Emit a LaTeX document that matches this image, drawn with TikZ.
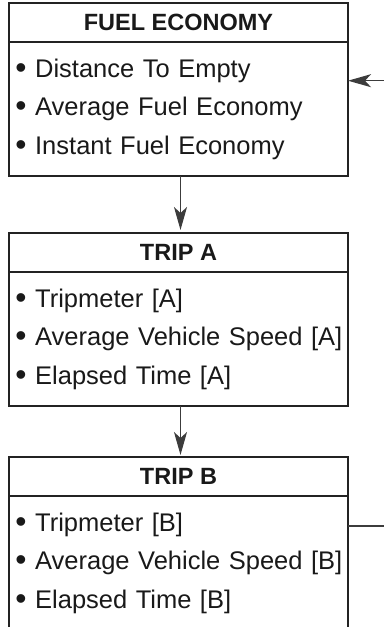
\documentclass[tikz,border=0pt]{standalone}
\usepackage{fontspec}
\setmainfont{Liberation Sans}
\usepackage{tikz}
\usetikzlibrary{positioning, calc, arrows.meta}
\usepackage{xcolor}
\definecolor{boxline}{RGB}{35, 35, 35}
\definecolor{linkline}{RGB}{60, 60, 60}
\definecolor{ink}{RGB}{25, 25, 25}
\newcommand{\itm}{\hspace*{1.5pt}\raisebox{-0.1ex}{\scalebox{1.25}{\textbullet}}\ }

\begin{document}
\begin{tikzpicture}[
        head/.style={draw=boxline, line width=0.8pt, outer sep=0pt, inner sep=0pt, minimum width=169.5pt, minimum height=19.5pt, text=ink, font=\fontsize{11.75pt}{14pt}\selectfont\bfseries},
        list/.style={draw=boxline, line width=0.8pt, outer sep=0pt, inner xsep=1.75pt, inner ysep=0pt, minimum width=169.5pt, minimum height=67pt, text width=166pt, align=left, text=ink, font=\fontsize{12.75pt}{19.25pt}\selectfont},
        link/.style={draw=linkline, line width=0.7pt},
        tip/.style={-{Stealth[length=11.5pt, width=6.5pt, inset=3pt]}}
    ]
        \clip (0, 0) rectangle (192pt, -313.5pt);

        \node (fuel) [head, anchor=north] at (89.25pt, -1.5pt) {FUEL ECONOMY};
        \node (fuelbody) [list, below=0pt of fuel] {\itm Distance To Empty\\ \itm Average Fuel Economy\\ \itm Instant Fuel Economy};

        \node (tripa) [head, below=28.5pt of fuelbody] {TRIP A};
        \node (tripabody) [list, below=0pt of tripa] {\itm Tripmeter [A]\\ \itm Average Vehicle Speed [A]\\ \itm Elapsed Time [A]};

        \node (tripb) [head, below=25.5pt of tripabody] {TRIP B};
        \node (tripbbody) [list, below=0pt of tripb] {\itm Tripmeter [B]\\ \itm Average Vehicle Speed [B]\\ \itm Elapsed Time [B]};

        \coordinate (loopin) at (192pt, -40.35pt);
        \coordinate (loopout) at (192pt, -263pt);

        \draw[link, tip, shorten >=1.5pt] ([xshift=1pt]fuelbody.south) -- ([xshift=1pt]tripa.north);
        \draw[link, tip, shorten >=1pt] ([xshift=1pt]tripabody.south) -- ([xshift=1pt]tripb.north);
        \draw[link, tip] (loopin) -- (loopin -| fuelbody.east);
        \draw[link] (tripbbody.east |- loopout) -- (loopout);
    \end{tikzpicture}
\end{document}
